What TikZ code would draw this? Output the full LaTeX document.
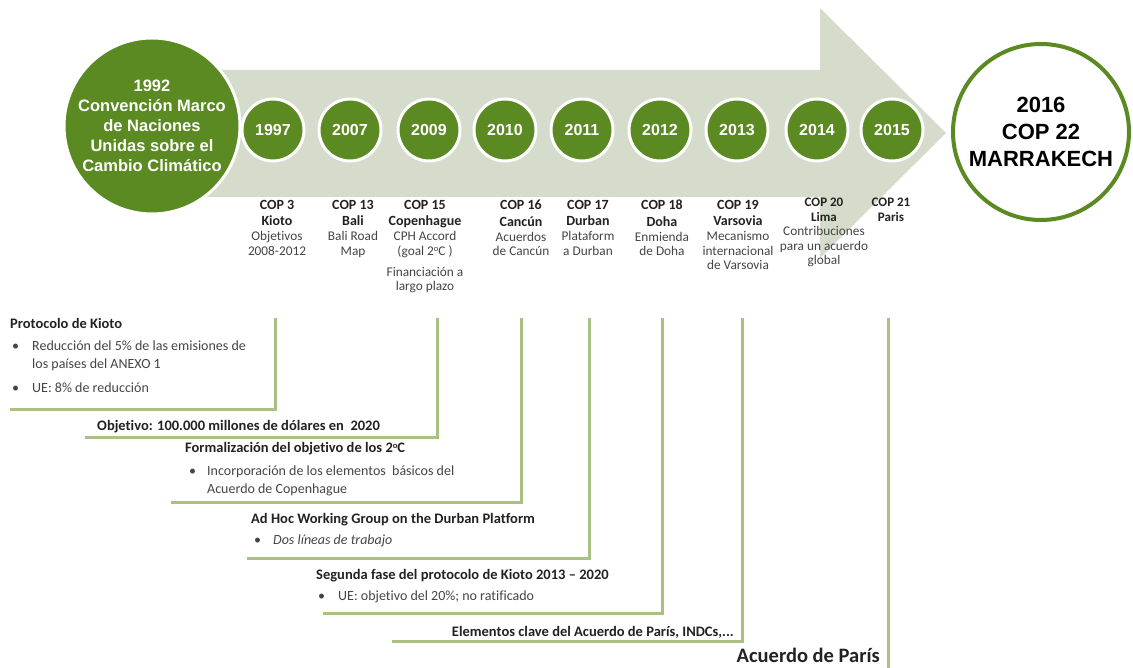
\documentclass[tikz,border=0pt]{standalone}
\usepackage{fontspec}
\setmainfont{Carlito}[Ligatures=NoCommon]
\newfontfamily\arialf{Liberation Sans}
\definecolor{dgreen}{HTML}{5B8A22}
\definecolor{arrowc}{HTML}{D5DCCC}
\definecolor{lgreen}{HTML}{A9C283}
\definecolor{txt}{HTML}{222222}
\definecolor{txtl}{HTML}{454545}
\newcommand\bl[1]{{\bfseries\color{txt}\fontsize{14}{14.5}\selectfont #1}}
\newcommand\bs[1]{{\bfseries\color{txt}\fontsize{13}{14.5}\selectfont #1}}
\newcommand\degsup{\raisebox{3.5pt}{\fontsize{8.5}{9}\selectfont o}}
\tikzset{
 yearc/.style={circle, fill=dgreen, draw=white, line width=3pt, minimum size=62pt, inner sep=0pt, text=white, font=\arialf\bfseries\fontsize{16}{19}\selectfont},
 coplbl/.style={anchor=north, align=center, inner sep=0pt, font=\fontsize{13.3}{14.5}\selectfont, text=txtl},
 lline/.style={draw=lgreen, line width=3pt, line join=miter},
 hd/.style={anchor=base west, inner sep=0pt, font=\bfseries\fontsize{14.5}{17}\selectfont, text=txt},
 bd/.style={anchor=base west, inner sep=0pt, font=\fontsize{14}{17}\selectfont, text=txtl},
}
\begin{document}
\begin{tikzpicture}[x=1pt,y=-1pt]
\useasboundingbox[fill=white] (0,0) rectangle (1133,668);
% big arrow
\fill[arrowc] (200,70) -- (820,70) -- (820,8) -- (946,133) -- (820,258) -- (820,197) -- (200,197) -- cycle;
% start circle
\node[circle, fill=dgreen, draw=white, line width=3pt, minimum size=176pt, inner sep=0pt, align=center, text=white,
  font=\arialf\bfseries\fontsize{16.5}{20}\selectfont] (c1992) at (152,126)
  {1992\\Convención Marco\\de Naciones\\Unidas sobre el\\Cambio Climático};
% end circle
\node[circle, fill=white, draw=dgreen, line width=4pt, minimum size=176pt, inner sep=0pt, align=center, text=black,
  font=\arialf\bfseries\fontsize{22}{27}\selectfont] (c2016) at (1041,132)
  {2016\\COP 22\\MARRAKECH};
% year circles
\node[yearc] (y1997) at (273,130) {1997};
\node[yearc] (y2007) at (350,130) {2007};
\node[yearc] (y2009) at (429,130) {2009};
\node[yearc] (y2010) at (505,130) {2010};
\node[yearc] (y2011) at (582,130) {2011};
\node[yearc] (y2012) at (660,130) {2012};
\node[yearc] (y2013) at (737,130) {2013};
\node[yearc] (y2014) at (817,130) {2014};
\node[yearc] (y2015) at (892,130) {2015};
% labels under circles
\node[coplbl] (l1997) at (277,200) {\bl{COP 3}\\[1.5pt]\bl{Kioto}\\[1pt]Objetivos\\2008-2012};
\node[coplbl] (l2007) at (353,200) {\bl{COP 13}\\[1.5pt]\bl{Bali}\\[1pt]Bali Road\\Map};
\node[coplbl] (l2009) at (425,200) {\bl{COP 15}\\[2pt]\bl{Copenhague}\\[0.5pt]CPH Accord\\(goal 2\degsup C )\\[6.5pt]Financiación a\\largo plazo};
\node[coplbl] (l2010) at (521,200) {\bl{COP 16}\\[2pt]\bl{Cancún}\\[0.5pt]Acuerdos\\de Cancún};
\node[coplbl] (l2011) at (588,200) {\bl{COP 17}\\[2pt]\bl{Durban}\\[0.5pt]Plataform\\a Durban};
\node[coplbl] (l2012) at (662,200) {\bl{COP 18}\\[2pt]\bl{Doha}\\[0.5pt]Enmienda\\de Doha};
\node[coplbl] (l2013) at (738,200) {\bl{COP 19}\\[2pt]\bl{Varsovia}\\[0.5pt]Mecanismo\\internacional\\de Varsovia};
\node[coplbl] (l2014) at (824,198) {\bs{COP 20}\\\bs{Lima}\\Contribuciones\\para un acuerdo\\global};
\node[coplbl] (l2015) at (891,198) {\bs{COP 21}\\\bs{Paris}};
% connector coordinates
\coordinate (k1) at (275,318); \coordinate (k1e) at (10,409);
\coordinate (k2) at (437,318); \coordinate (k2e) at (85,437);
\coordinate (k3) at (521,318); \coordinate (k3e) at (171,502);
\coordinate (k4) at (589,318); \coordinate (k4e) at (247,558);
\coordinate (k5) at (662,318); \coordinate (k5e) at (323,613);
\coordinate (k6) at (742,318); \coordinate (k6e) at (392,641);
\coordinate (k7) at (888,318); \coordinate (k7e) at (888,668);
\draw[lline] (k1) |- (k1e);
\draw[lline] (k2) |- (k2e);
\draw[lline] (k3) |- (k3e);
\draw[lline] (k4) |- (k4e);
\draw[lline] (k5) |- (k5e);
\draw[lline] (k6) |- (k6e);
\draw[lline] (k7) -- (k7e);
% annotation texts
\node[hd] (t1) at (10,329) {Protocolo de Kioto};
\node[bd] (t1b1) at (12,351) {•};
\node[bd] (t1a) at (32,351) {Reducción del 5\% de las emisiones de};
\node[bd] (t1a2) at (32,369) {los países del ANEXO 1};
\node[bd] (t1b2) at (12,392) {•};
\node[bd] (t1c) at (32,392) {UE: 8\% de reducción};
\node[hd] (t2) at (97,430) {Objetivo: 100.000 millones de dólares en \ 2020};
\node[hd] (t3) at (185,452) {Formalización del objetivo de los 2\degsup C};
\node[bd] (t3b) at (189,475) {•};
\node[bd] (t3a) at (207,475) {Incorporación de los elementos \ básicos del};
\node[bd] (t3a2) at (207,493) {Acuerdo de Copenhague};
\node[hd] (t4) at (251,523) {Ad Hoc Working Group on the Durban Platform};
\node[bd] (t4b) at (254,544) {•};
\node[bd, font=\itshape\fontsize{14}{17}\selectfont] (t4a) at (273,544) {Dos líneas de trabajo};
\node[hd] (t5) at (316,579) {Segunda fase del protocolo de Kioto 2013 – 2020};
\node[bd] (t5b) at (318,600) {•};
\node[bd] (t5a) at (338,600) {UE: objetivo del 20\%; no ratificado};
\node[hd, anchor=base east] (t6) at (734,636) {Elementos clave del Acuerdo de París, INDCs,...};
\node[hd, anchor=base east, font=\bfseries\fontsize{20.5}{24}\selectfont] (t7) at (880,662) {Acuerdo de París};
\end{tikzpicture}
\end{document}
